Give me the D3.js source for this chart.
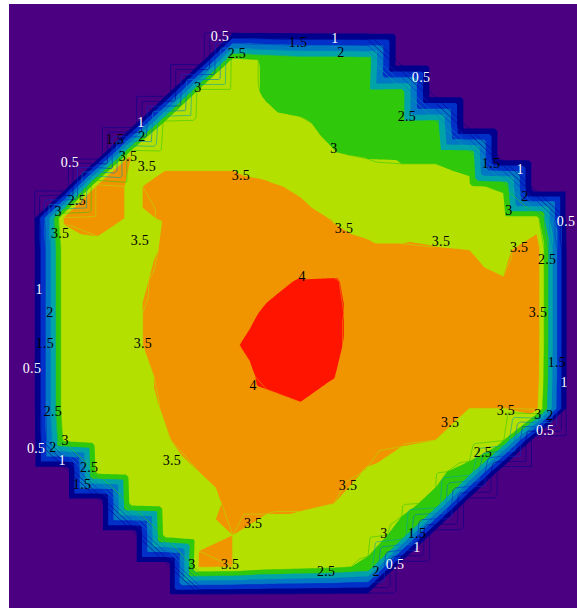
<!DOCTYPE html>
<html>
<head>
<meta charset="utf-8">
<script src="https://cdn.jsdelivr.net/npm/d3@7"></script>
<style>
  html, body { margin: 0; padding: 0; background: #ffffff; }
  svg { display: block; }
  .lbl { font-family: "Liberation Serif", "DejaVu Serif", serif; font-size: 14px; letter-spacing: 0.3px; }
</style>
</head>
<body>
<svg id="chart" width="577" height="608"></svg>
<script>
// Node grid: 17 columns x 19 rows, value 0 outside the measured domain.
const gridCols = d3.range(17);
const gridRows = d3.range(19);

const row00 = [0,0,0,0,0,0,0,0,0,0,0,0,0,0,0,0,0];
const row01 = [0,0,0,0,0,0,3.15,2.95,2.8,2.8,2.75,0,0,0,0,0,0];
const row02 = [0,0,0,0,0,3.2,3.2,2.95,2.8,2.7,2.65,2.7,0,0,0,0,0];
const row03 = [0,0,0,0,3.2,3.3,3.3,3.1,3.05,2.9,2.75,2.7,2.75,0,0,0,0];
const row04 = [0,0,0,3.5,3.4,3.4,3.4,3.3,3.15,3.02,2.97,2.96,2.96,2.9,0,0,0];
const row05 = [0,0,3.7,3.45,3.6,3.6,3.6,3.55,3.45,3.3,3.2,3.1,3.1,3.05,2.95,0,0];
const row06 = [0,3.55,3.7,3.45,3.52,3.7,3.75,3.7,3.6,3.48,3.4,3.3,3.35,3.3,3.2,3.2,0];
const row07 = [0,3.3,3.35,3.3,3.55,3.7,3.8,3.85,3.8,3.6,3.55,3.55,3.52,3.5,3.4,3.8,0];
const row08 = [0,3.3,3.3,3.4,3.6,3.75,3.85,3.9,4.03,4.05,3.75,3.6,3.6,3.58,3.52,3.8,0];
const row09 = [0,3.3,3.3,3.45,3.6,3.7,3.85,4.05,4.3,4.1,3.75,3.65,3.6,3.6,3.6,3.8,0];
const row10 = [0,3.3,3.3,3.45,3.6,3.7,3.95,4.2,4.4,4.1,3.7,3.6,3.6,3.6,3.6,3.8,0];
const row11 = [0,3.3,3.3,3.4,3.55,3.7,3.8,4.1,4.2,4.01,3.7,3.6,3.6,3.6,3.6,3.75,0];
const row12 = [0,3.3,3.3,3.4,3.52,3.65,3.75,3.85,3.95,3.85,3.7,3.65,3.6,3.5,3.5,3.6,0];
const row13 = [0,3.1,3.3,3.35,3.48,3.6,3.7,3.7,3.7,3.65,3.6,3.55,3.5,3.4,3.05,0,0];
const row14 = [0,0,3.2,3.3,3.4,3.5,3.6,3.65,3.65,3.6,3.48,3.3,3.1,2.8,0,0,0];
const row15 = [0,0,0,3.2,3.3,3.4,3.55,3.55,3.55,3.5,3.3,3.1,2.9,0,0,0,0];
const row16 = [0,0,0,0,3.2,3.45,3.5,3.4,3.35,3.3,3.2,2.85,0,0,0,0,0];
const row17 = [0,0,0,0,0,3.55,3.5,3.3,3.2,3.1,2.9,0,0,0,0,0,0];
const row18 = [0,0,0,0,0,0,0,0,0,0,0,0,0,0,0,0,0];
const gridValues = [row00,row01,row02,row03,row04,row05,row06,row07,row08,row09,
                    row10,row11,row12,row13,row14,row15,row16,row17,row18];

// Contour levels and band colours (band i covers levels[i] .. levels[i+1]).
const levels = [0.5, 1, 1.5, 2, 2.5, 3, 3.5, 4];
const baseColor = "#4b0082";
const bandColors = ["#00008c", "#0030c8", "#0078c4", "#00a4a8", "#30c80a", "#b4e000", "#f09400", "#ff1400"];

// Contour labels, placed in grid units.
const labelText = ["0.5","2.5","3","1","1.5","2","3.5","3.5","0.5","3.5","2.5",
  "1.5","1","2","0.5","2.5","3","1.5","1","2","3","0.5","3.5","3.5","3.5","2.5","4","3.5","1.5","1",
  "3","3.5","3.5","1","2","1.5","3.5","0.5","4",
  "2.5","3","0.5","2","1","2.5","1.5","3.5","3.5","3","3.5",
  "3.5","3.5","3","2","0.5","2.5","3.5","3","1.5","1","0.5","2.5","2"];
const labelCol = [5.62,6.12,4.97,3.28,2.51,3.31,2.90,3.46,1.18,6.24,1.39,
  7.93,9.02,9.20,11.57,11.15,8.99,13.64,14.50,14.64,14.17,15.86,9.29,12.16,14.47,15.30,8.05,15.03,15.59,15.80,
  0.83,0.89,3.25,0.27,0.59,0.44,3.34,0.06,6.60,
  0.68,1.04,0.18,0.68,0.95,1.75,1.54,4.20,6.60,4.79,5.92,
  12.43,14.08,15.03,15.38,15.24,13.40,9.41,10.47,11.45,11.45,10.80,8.76,10.24];
const labelRow = [0.28,0.79,1.89,2.97,3.53,3.41,4.04,4.38,4.23,4.64,5.43,
  0.47,0.32,0.76,1.55,2.78,3.79,4.26,4.45,5.33,5.77,6.09,6.31,6.75,6.94,7.29,7.85,8.99,10.54,11.17,
  5.80,6.47,6.69,8.26,8.96,9.94,9.94,10.73,11.29,
  12.11,13.00,13.25,13.22,13.63,13.85,14.40,13.63,15.62,16.94,16.94,
  12.46,12.08,12.18,12.21,12.71,13.38,14.42,15.96,15.96,16.40,16.94,17.16,17.16];

const svg = d3.select("#chart");
const plot = { left: 9, top: 4, right: 577, bottom: 608 };

const x = d3.scaleLinear().domain([0, gridCols.length - 1]).range([30, 570.8]);
const y = d3.scaleLinear().domain([0, gridRows.length - 1]).range([28, 598.6]);

svg.append("defs").append("clipPath").attr("id", "plotClip")
  .append("rect")
  .attr("x", plot.left).attr("y", plot.top)
  .attr("width", plot.right - plot.left).attr("height", plot.bottom - plot.top);

const g = svg.append("g").attr("clip-path", "url(#plotClip)");
g.append("rect")
  .attr("x", plot.left).attr("y", plot.top)
  .attr("width", plot.right - plot.left).attr("height", plot.bottom - plot.top)
  .attr("fill", baseColor);

// Sample the triangulated (piecewise-linear) surface on a finer lattice.
// Filled bands split each cell along the "/" diagonal; the thin contour
// lines use the other ("\") split.
const sub = 12;
const nc = gridCols.length, nr = gridRows.length;
const fw = (nc - 1) * sub + 1, fh = (nr - 1) * sub + 1;
function cellAt(u, v) {
  const i = Math.min(Math.floor(u), nc - 2), j = Math.min(Math.floor(v), nr - 2);
  return {
    fx: u - i, fy: v - j,
    tl: gridValues[j][i], tr: gridValues[j][i + 1],
    bl: gridValues[j + 1][i], br: gridValues[j + 1][i + 1]
  };
}
function surfaceSlash(u, v) {
  const { fx, fy, tl, tr, bl, br } = cellAt(u, v);
  if (fx + fy <= 1) return tl + fx * (tr - tl) + fy * (bl - tl);
  return br + (1 - fx) * (bl - br) + (1 - fy) * (tr - br);
}
function surfaceBackslash(u, v) {
  const { fx, fy, tl, tr, bl, br } = cellAt(u, v);
  if (fx >= fy) return tl + fx * (tr - tl) + fy * (br - tr);
  return tl + fy * (bl - tl) + fx * (br - bl);
}
function sample(fn) {
  const arr = new Float64Array(fw * fh);
  for (let r = 0; r < fh; r++)
    for (let c = 0; c < fw; c++)
      arr[r * fw + c] = fn(c / sub, r / sub);
  return arr;
}

const contourGen = d3.contours().size([fw, fh]).thresholds(levels);
const fillContours = contourGen(sample(surfaceSlash));
const lineContours = contourGen(sample(surfaceBackslash));

const project = d3.geoTransform({
  point: function (px, py) {
    this.stream.point(x((px - 0.5) / sub), y((py - 0.5) / sub));
  }
});
const path = d3.geoPath(project);

g.selectAll("path.band")
  .data(fillContours)
  .join("path")
  .attr("class", "band")
  .attr("d", path)
  .attr("fill", (d, i) => bandColors[i]);

g.selectAll("path.cline")
  .data(lineContours)
  .join("path")
  .attr("class", "cline")
  .attr("d", path)
  .attr("fill", "none")
  .attr("stroke", (d, i) => bandColors[Math.max(i - 1, 0)])
  .attr("stroke-width", 0.8)
  .attr("stroke-opacity", 0.75);

// Contour labels
g.selectAll("text.lbl")
  .data(labelText.map((t, i) => ({ t, c: labelCol[i], r: labelRow[i] })))
  .join("text")
  .attr("class", "lbl")
  .attr("x", d => x(d.c))
  .attr("y", d => y(d.r))
  .attr("text-anchor", "middle")
  .attr("dominant-baseline", "central")
  .attr("fill", d => (d.t === "0.5" || d.t === "1") ? "#ffffff" : "#000000")
  .text(d => d.t);
</script>
</body>
</html>
